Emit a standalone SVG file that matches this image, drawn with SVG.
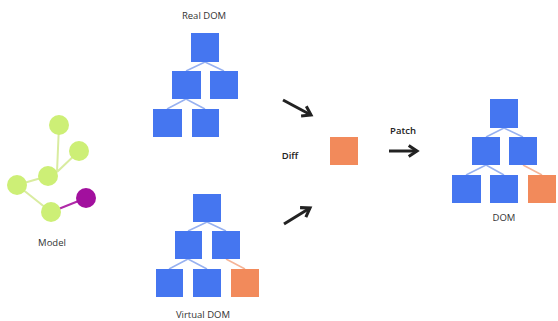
<svg xmlns="http://www.w3.org/2000/svg" width="558" height="321" viewBox="0 0 558 321">
<style>
.b{fill:#4576f0}
.o{fill:#f28a5b}
.l{stroke:#97b1f0;stroke-width:1.5;fill:none}
.lo{stroke:#f5b497;stroke-width:1.5;fill:none}
.g{fill:#cdef76}
.gl{stroke:#d9eca0;stroke-width:2;fill:none}
.t{font-family:"Open Sans","Noto Sans",sans-serif;font-size:9.5px;fill:#333;text-anchor:middle}
.s{font-weight:600;fill:#222}
.a{stroke:#222;stroke-width:3;fill:none}
</style>
<defs>
<marker id="ah" viewBox="0 0 10 10" refX="7" refY="5" markerWidth="4.6" markerHeight="4.6" orient="auto" markerUnits="strokeWidth">
<path d="M1,1 L7,5 L1,9" fill="none" stroke="#222" stroke-width="2.2"/>
</marker>
</defs>
<g id="connectors">
<path class="l" d="M205,62 L186,71 M205,62 L224,71 M186,99 L167,109 M186,99 L205,109"/>
<path class="l" d="M207,222 L188,231 M207,222 L226,231 M188,259 L169,269 M188,259 L207,269"/>
<path class="lo" d="M226,259 L245,269"/>
<path class="l" d="M504,128 L486,137 M504,128 L523,137 M486,165 L466,175 M486,165 L504,175"/>
<path class="lo" d="M523,165 L542,175"/>
<path class="gl" d="M59,125 L57,172 M79,151 L57,172 M17,185 L48,176 M17,185 L51,212"/>
<path stroke="#b02aa8" stroke-width="2" d="M51,212 L86,198"/>
<path class="a" marker-end="url(#ah)" d="M283,100 L311,115"/>
<path class="a" marker-end="url(#ah)" d="M284,224 L310,208"/>
<path class="a" marker-end="url(#ah)" d="M389,151 L417,151"/>
</g>
<g id="real-dom">
<rect class="b" x="191" y="33" width="28" height="29"/>
<rect class="b" x="172" y="71" width="29" height="28"/>
<rect class="b" x="210" y="71" width="28" height="28"/>
<rect class="b" x="153" y="109" width="29" height="28"/>
<rect class="b" x="192" y="109" width="27" height="28"/>
<text class="t" x="204" y="19">Real DOM</text>
</g>
<g id="virtual-dom">
<rect class="b" x="193" y="194" width="28" height="28"/>
<rect class="b" x="175" y="231" width="27" height="28"/>
<rect class="b" x="212" y="231" width="28" height="28"/>
<rect class="b" x="156" y="269" width="27" height="28"/>
<rect class="b" x="193" y="269" width="28" height="28"/>
<rect class="o" x="231" y="269" width="28" height="28"/>
<text class="t" x="203" y="318">Virtual DOM</text>
</g>
<g id="model">
<circle class="g" cx="59" cy="125" r="10"/>
<circle class="g" cx="79" cy="151" r="10"/>
<circle class="g" cx="48" cy="176" r="10"/>
<circle class="g" cx="17" cy="185" r="10"/>
<circle class="g" cx="51" cy="212" r="10"/>
<circle fill="#a2109e" cx="86" cy="198" r="10"/>
<text class="t" x="52" y="246">Model</text>
</g>
<g id="diff">
<text class="t s" x="290" y="159">Diff</text>
<rect class="o" x="330" y="137" width="28" height="28"/>
</g>
<g id="patch">
<text class="t s" x="403" y="134">Patch</text>
</g>
<g id="dom">
<rect class="b" x="490" y="99" width="28" height="29"/>
<rect class="b" x="472" y="137" width="28" height="28"/>
<rect class="b" x="509" y="137" width="28" height="28"/>
<rect class="b" x="452" y="175" width="29" height="28"/>
<rect class="b" x="490" y="175" width="28" height="28"/>
<rect class="o" x="528" y="175" width="28" height="28"/>
<text class="t" x="504" y="221">DOM</text>
</g>
</svg>
